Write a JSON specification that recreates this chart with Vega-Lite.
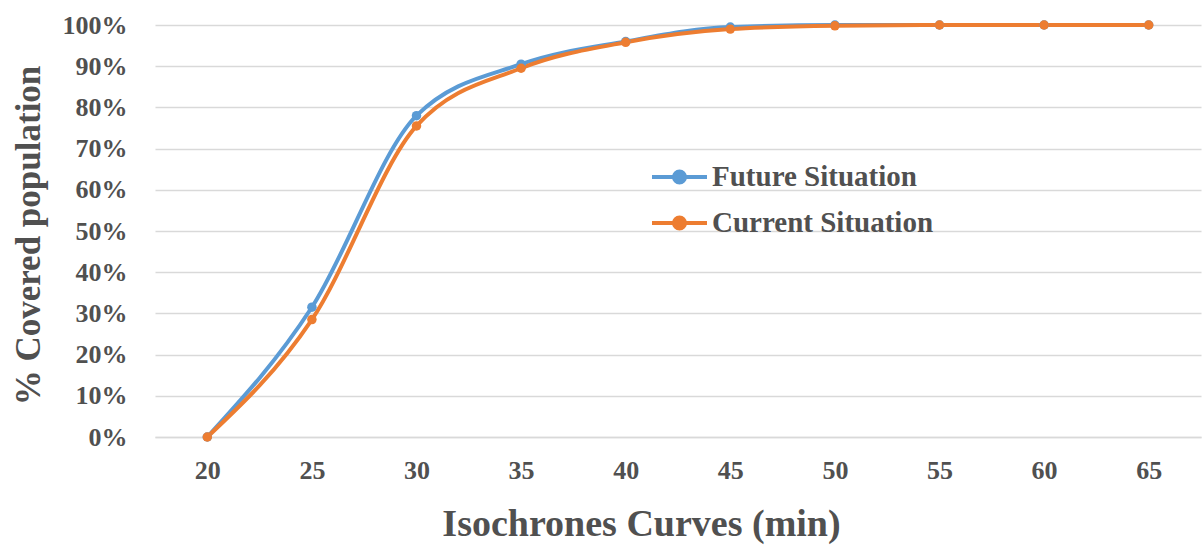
{
  "$schema": "https://vega.github.io/schema/vega-lite/v6.json",
  "autosize": "none",
  "width": 1046,
  "height": 412,
  "padding": {"left": 155, "top": 25, "right": 1, "bottom": 108},
  "background": "white",
  "config": {
    "view": {"stroke": null},
    "font": "Liberation Serif"
  },
  "data": {
    "values": [
      {"t": 20, "series": "Future Situation", "v": 0},
      {"t": 25, "series": "Future Situation", "v": 0.315},
      {"t": 30, "series": "Future Situation", "v": 0.78},
      {"t": 35, "series": "Future Situation", "v": 0.905},
      {"t": 40, "series": "Future Situation", "v": 0.96},
      {"t": 45, "series": "Future Situation", "v": 0.995},
      {"t": 50, "series": "Future Situation", "v": 1.0},
      {"t": 55, "series": "Future Situation", "v": 1.0},
      {"t": 60, "series": "Future Situation", "v": 1.0},
      {"t": 65, "series": "Future Situation", "v": 1.0},
      {"t": 20, "series": "Current Situation", "v": 0},
      {"t": 25, "series": "Current Situation", "v": 0.285},
      {"t": 30, "series": "Current Situation", "v": 0.755},
      {"t": 35, "series": "Current Situation", "v": 0.895},
      {"t": 40, "series": "Current Situation", "v": 0.958},
      {"t": 45, "series": "Current Situation", "v": 0.99},
      {"t": 50, "series": "Current Situation", "v": 0.998},
      {"t": 55, "series": "Current Situation", "v": 1.0},
      {"t": 60, "series": "Current Situation", "v": 1.0},
      {"t": 65, "series": "Current Situation", "v": 1.0}
    ]
  },
  "encoding": {
    "x": {
      "field": "t",
      "type": "ordinal",
      "scale": {"type": "point", "padding": 0.5},
      "axis": {
        "title": "Isochrones Curves (min)",
        "labelAngle": 0,
        "labelFont": "Liberation Serif",
        "labelFontWeight": "bold",
        "labelFontSize": 26,
        "labelColor": "#505050",
        "labelPadding": 20,
        "ticks": false,
        "domain": true,
        "domainColor": "#d9d9d9",
        "domainWidth": 1.5,
        "grid": false,
        "titleFont": "Liberation Serif",
        "titleFontWeight": "bold",
        "titleFontSize": 38,
        "titleColor": "#505050",
        "titleX": 486,
        "titleY": 98,
        "titleBaseline": "alphabetic"
      }
    },
    "y": {
      "field": "v",
      "type": "quantitative",
      "scale": {"domain": [0, 1]},
      "axis": {
        "title": "% Covered population",
        "values": [0, 0.1, 0.2, 0.3, 0.4, 0.5, 0.6, 0.7, 0.8, 0.9, 1.0],
        "format": ".0%",
        "labelFont": "Liberation Serif",
        "labelFontWeight": "bold",
        "labelFontSize": 26,
        "labelColor": "#505050",
        "labelPadding": 28,
        "ticks": false,
        "domain": false,
        "grid": true,
        "gridColor": "#d9d9d9",
        "gridWidth": 1.5,
        "titleFont": "Liberation Serif",
        "titleFontWeight": "bold",
        "titleFontSize": 35,
        "titleColor": "#505050",
        "titleX": -109,
        "titleY": 210,
        "titleAngle": -90,
        "titleBaseline": "bottom"
      }
    },
    "color": {
      "field": "series",
      "type": "nominal",
      "sort": ["Future Situation", "Current Situation"],
      "scale": {"domain": ["Future Situation", "Current Situation"], "range": ["#5B9BD5", "#ED7D31"]},
      "legend": {
        "title": null,
        "orient": "none",
        "legendX": 495,
        "legendY": 130,
        "symbolType": "M-1,0L1,0M0.2,0A0.2,0.2,0,1,1,-0.2,0A0.2,0.2,0,1,1,0.2,0Z",
        "symbolSize": 3025,
        "symbolStrokeWidth": 4,
        "clipHeight": 44,
        "rowPadding": 2,
        "labelOffset": 3,
        "labelLimit": 500,
        "labelFont": "Liberation Serif",
        "labelFontWeight": "bold",
        "labelFontSize": 29,
        "labelColor": "#505050",
        "encode": {
          "symbols": {"update": {"fill": {"scale": "color", "field": "value"}, "stroke": {"scale": "color", "field": "value"}, "strokeWidth": {"value": 4}}}
        }
      }
    }
  },
  "layer": [
    {
      "mark": {"type": "line", "interpolate": "monotone", "strokeWidth": 4, "point": {"filled": true, "size": 90}}
    }
  ]
}
